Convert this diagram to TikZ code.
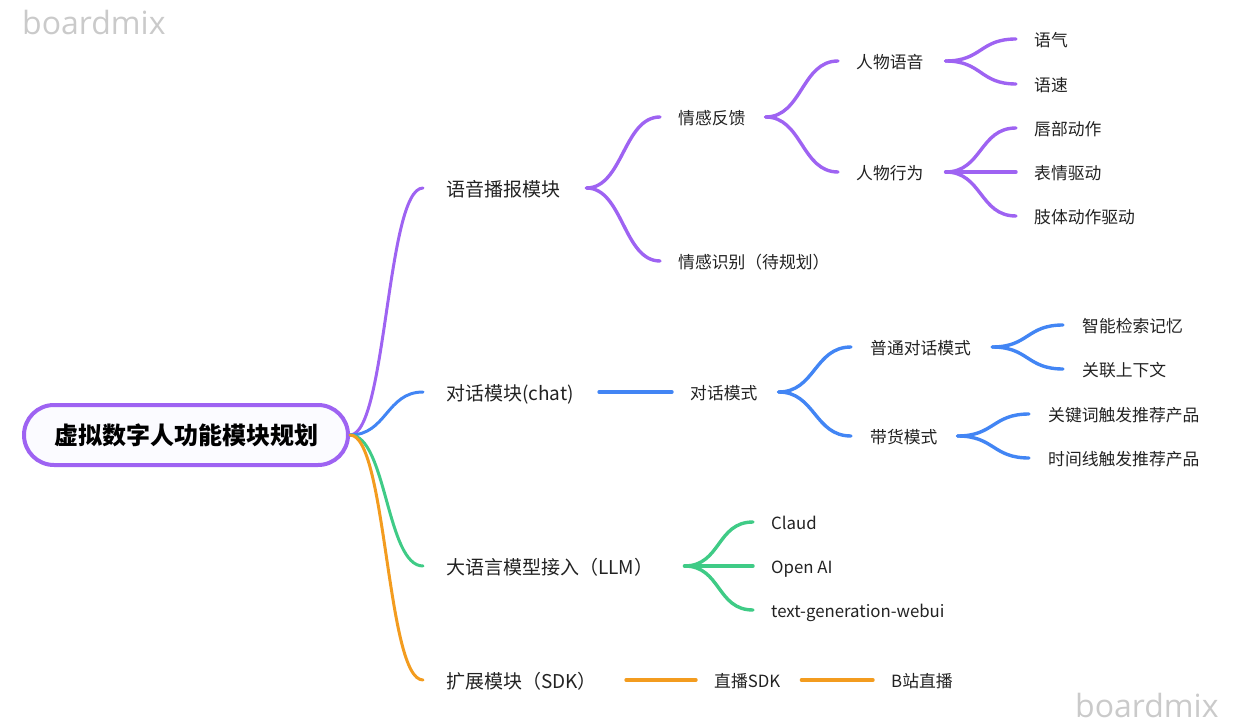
\documentclass[tikz,border=0pt]{standalone}
\usepackage{fontspec}
\setmainfont{Noto Sans CJK SC}
\newfontfamily\wmfont{Open Sans}
\definecolor{cpurple}{HTML}{9E63F2}
\definecolor{cblue}{HTML}{4285F4}
\definecolor{cgreen}{HTML}{3FCB86}
\definecolor{corange}{HTML}{F39C1F}
\definecolor{ctext}{HTML}{222222}
\definecolor{cwm}{HTML}{CACACA}
\definecolor{rootfill}{HTML}{FBFBFF}
\tikzset{
  rootbox/.style={draw=cpurple, line width=4pt, fill=rootfill, rounded corners=30pt,
    minimum width=324pt, minimum height=60pt, inner sep=0pt,
    font=\bfseries\fontsize{24}{26}\selectfont, text=black},
  lvlone/.style={font=\fontsize{19}{21}\selectfont, inner sep=0pt, anchor=west,
    text height=19pt, text depth=2pt, text=ctext},
  lvltwo/.style={font=\fontsize{16.8}{18}\selectfont, inner sep=0pt, anchor=west,
    text height=17pt, text depth=1.5pt, text=ctext},
  link/.style={line width=3.4pt, line cap=round},
  rootlink/.style={line width=3pt, line cap=round},
  sbend/.style={to path={.. controls +(36.5,0) and +(-36.5,0) .. (\tikztotarget)}},
  wm/.style={font=\wmfont\fontsize{32}{34}\selectfont, text=cwm, inner sep=0pt, anchor=base west},
}
\begin{document}
\begin{tikzpicture}[x=1pt,y=-1pt]
\useasboundingbox (0,0) rectangle (1241,727);

% watermarks
\node[wm] (wma) at (22,35) {boardmix};
\node[wm] (wmb) at (1075,717) {boardmix};

% root
\node[rootbox] (root) at (186,435) {虚拟数字人功能模块规划};

% level 1
\node[lvlone] (b1) at (446,188) {语音播报模块};
\node[lvlone] (b2) at (446,392) {对话模块(chat)};
\node[lvlone] (b3) at (446,566) {大语言模型接入（LLM）};
\node[lvlone] (b4) at (446,680) {扩展模块（SDK）};

% purple branch
\node[lvltwo] (c1) at (678,117) {情感反馈};
\node[lvltwo] (c2) at (678,261) {情感识别（待规划）};
\node[lvltwo] (d1) at (856,61) {人物语音};
\node[lvltwo] (d2) at (856,172) {人物行为};
\node[lvltwo] (e1) at (1034,39) {语气};
\node[lvltwo] (e2) at (1034,84) {语速};
\node[lvltwo] (e3) at (1034,128) {唇部动作};
\node[lvltwo] (e4) at (1034,172) {表情驱动};
\node[lvltwo] (e5) at (1034,216) {肢体动作驱动};

% blue branch
\node[lvltwo] (f1) at (690,392) {对话模式};
\node[lvltwo] (g1) at (870,347) {普通对话模式};
\node[lvltwo] (g2) at (870,436) {带货模式};
\node[lvltwo] (h1) at (1082,325) {智能检索记忆};
\node[lvltwo] (h2) at (1082,369) {关联上下文};
\node[lvltwo] (h3) at (1048,414) {关键词触发推荐产品};
\node[lvltwo] (h4) at (1048,458) {时间线触发推荐产品};

% green branch
\node[lvltwo] (k1) at (771,522) {Claud};
\node[lvltwo] (k2) at (771,566) {Open AI};
\node[lvltwo] (k3) at (771,610) {text-generation-webui};

% orange branch
\node[lvltwo] (m1) at (714,680) {直播SDK};
\node[lvltwo] (m2) at (891,680) {B站直播};

% root connectors
\draw[rootlink, cpurple] (root.east) to[sbend] ([xshift=-23pt]b1.west);
\draw[rootlink, cblue]   (root.east) to[sbend] ([xshift=-23pt]b2.west);
\draw[rootlink, cgreen]  (root.east) to[sbend] ([xshift=-23pt]b3.west);
\draw[rootlink, corange] (root.east) to[sbend] ([xshift=-23pt]b4.west);

% purple connectors
\draw[link, cpurple] ([xshift=26pt]b1.east) to[sbend] ([xshift=-18pt]c1.west);
\draw[link, cpurple] ([xshift=26pt]b1.east) to[sbend] ([xshift=-18pt]c2.west);
\draw[link, cpurple] ([xshift=20pt]c1.east) to[sbend] ([xshift=-18pt]d1.west);
\draw[link, cpurple] ([xshift=20pt]c1.east) to[sbend] ([xshift=-18pt]d2.west);
\draw[link, cpurple] ([xshift=22pt]d1.east) to[sbend] ([xshift=-18pt]e1.west);
\draw[link, cpurple] ([xshift=22pt]d1.east) to[sbend] ([xshift=-18pt]e2.west);
\draw[link, cpurple] ([xshift=22pt]d2.east) to[sbend] ([xshift=-18pt]e3.west);
\draw[link, cpurple] ([xshift=22pt]d2.east) to[sbend] ([xshift=-18pt]e4.west);
\draw[link, cpurple] ([xshift=22pt]d2.east) to[sbend] ([xshift=-18pt]e5.west);

% blue connectors
\draw[link, cblue] ([xshift=25pt]b2.east) -- ([xshift=-18pt]f1.west);
\draw[link, cblue] ([xshift=21pt]f1.east) to[sbend] ([xshift=-19pt]g1.west);
\draw[link, cblue] ([xshift=21pt]f1.east) to[sbend] ([xshift=-19pt]g2.west);
\draw[link, cblue] ([xshift=21pt]g1.east) to[sbend] ([xshift=-19pt]h1.west);
\draw[link, cblue] ([xshift=21pt]g1.east) to[sbend] ([xshift=-19pt]h2.west);
\draw[link, cblue] ([xshift=20pt]g2.east) to[sbend] ([xshift=-19pt]h3.west);
\draw[link, cblue] ([xshift=20pt]g2.east) to[sbend] ([xshift=-19pt]h4.west);

% green connectors
\draw[link, cgreen] ([xshift=31pt]b3.east) to[sbend] ([xshift=-18pt]k1.west);
\draw[link, cgreen] ([xshift=31pt]b3.east) -- ([xshift=-18pt]k2.west);
\draw[link, cgreen] ([xshift=31pt]b3.east) to[sbend] ([xshift=-18pt]k3.west);

% orange connectors
\draw[link, corange] ([xshift=29pt]b4.east) -- ([xshift=-18pt]m1.west);
\draw[link, corange] ([xshift=21pt]m1.east) -- ([xshift=-18pt]m2.west);
\end{tikzpicture}
\end{document}
